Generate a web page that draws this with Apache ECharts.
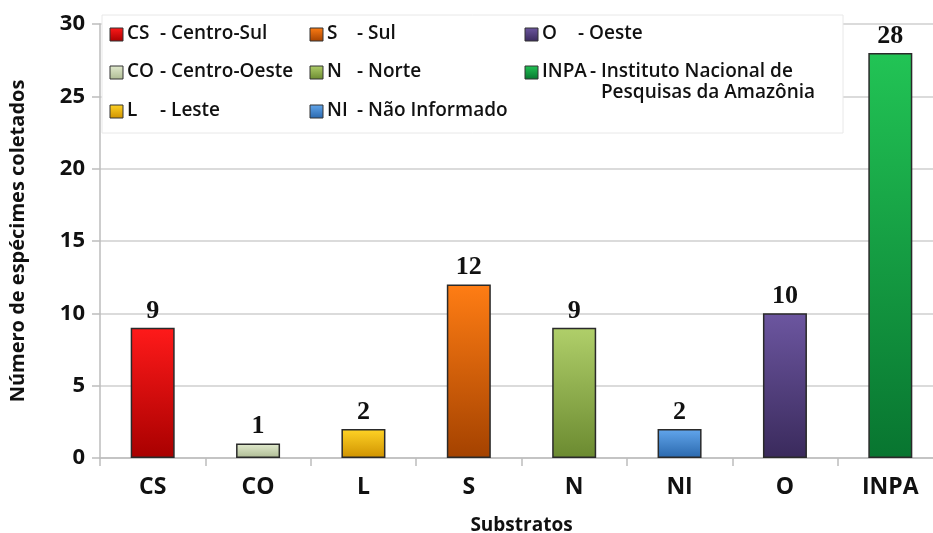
<!DOCTYPE html>
<html>
<head>
<meta charset="utf-8">
<script src="https://cdn.jsdelivr.net/npm/echarts@6/dist/echarts.min.js"></script>
<style>
html,body{margin:0;padding:0;background:#fff;}
#chart{width:933px;height:533px;}
</style>
</head>
<body>
<div id="chart"></div>
<script>
// ---- data ----
const categories = ['CS', 'CO', 'L', 'S', 'N', 'NI', 'O', 'INPA'];
const values = [9, 1, 2, 12, 9, 2, 10, 28];
const descriptions = ['- Centro-Sul', '- Centro-Oeste', '- Leste', '- Sul', '- Norte', '- Não Informado', '- Oeste', '- Instituto Nacional de\nPesquisas da Amazônia'];
const yTicks = [0, 5, 10, 15, 20, 25, 30];
const yAxisTitle = 'Número de espécimes coletados';
const xAxisTitle = 'Substratos';

// ---- styles ----
const barColors = [
  ['#ff1a1a', '#a80000'],
  ['#e2ebcf', '#aebb93'],
  ['#ffd326', '#cf9200'],
  ['#ff7d14', '#a44200'],
  ['#b0cf6a', '#6b8a30'],
  ['#62a6ec', '#2a68ad'],
  ['#6c56a0', '#3a2a5c'],
  ['#22c455', '#087530']
];
const sansFont = '"Open Sans", "DejaVu Sans", sans-serif';
const legendFont = '600 19px ' + sansFont;

function grad(c) {
  return new echarts.graphic.LinearGradient(0, 0, 0, 1, [
    { offset: 0, color: c[0] }, { offset: 1, color: c[1] }
  ]);
}

const chart = echarts.init(document.getElementById('chart'), null, { renderer: 'canvas' });

// legend built from arrays
const ctx = document.createElement('canvas').getContext('2d');
ctx.font = legendFont;
const colSquareX = [110, 310, 525];
const colDescX = [160, 357, 578];
const rowY = [34, 72, 111];
const legendEls = [{
  type: 'rect', shape: { x: 102, y: 15, width: 741, height: 118 },
  style: { fill: '#ffffff', stroke: '#e8e8e8', lineWidth: 1 }, z: 10
}];
categories.forEach((cat, i) => {
  const col = Math.floor(i / 3), row = i % 3;
  const sx = colSquareX[col], y = rowY[row];
  legendEls.push({
    type: 'rect', shape: { x: sx, y: y - 6, width: 13, height: 13 },
    style: { fill: grad(barColors[i]), stroke: '#333', lineWidth: 1 }, z: 11
  });
  legendEls.push({
    type: 'text', x: sx + 17, y: y,
    style: { text: cat, font: legendFont, fill: '#111', verticalAlign: 'middle' }, z: 11
  });
  const codeW = ctx.measureText(cat).width;
  const dx = Math.max(colDescX[col], sx + 17 + codeW + 3);
  const lines = descriptions[i].split('\n');
  lines.forEach((ln, k) => {
    legendEls.push({
      type: 'text', x: dx + (k > 0 ? 11 : 0), y: y + k * 21,
      style: { text: ln, font: legendFont, fill: '#111', verticalAlign: 'middle' }, z: 11
    });
  });
});

const option = {
  animation: false,
  backgroundColor: '#ffffff',
  grid: { left: 100, right: -10, top: 24, bottom: 75, containLabel: false, outerBoundsMode: 'none' },
  xAxis: {
    type: 'category',
    data: categories,
    name: xAxisTitle,
    nameLocation: 'middle',
    nameGap: 58,
    nameTextStyle: { fontFamily: sansFont, fontWeight: 'bold', fontSize: 19, color: '#111' },
    axisLine: { show: true, lineStyle: { color: '#bdbdbd', width: 1.5 } },
    axisTick: { show: true, length: 8, lineStyle: { color: '#bdbdbd', width: 1.5 } },
    axisLabel: { fontFamily: sansFont, fontWeight: 'bold', fontSize: 23, color: '#111', margin: 18 }
  },
  yAxis: {
    type: 'value',
    min: yTicks[0],
    max: yTicks[yTicks.length - 1],
    interval: yTicks[1] - yTicks[0],
    name: yAxisTitle,
    nameLocation: 'middle',
    nameGap: 72,
    nameTextStyle: { fontFamily: sansFont, fontWeight: 'bold', fontSize: 20, color: '#111' },
    axisLine: { show: true, lineStyle: { color: '#bdbdbd', width: 1.5 } },
    axisTick: { show: true, length: 8, lineStyle: { color: '#bdbdbd', width: 1.5 } },
    splitLine: { show: true, lineStyle: { color: '#cfcfcf', width: 1.5 } },
    axisLabel: { fontFamily: sansFont, fontWeight: 'bold', fontSize: 22, color: '#111', margin: 15 }
  },
  series: [{
    type: 'bar',
    barWidth: 44,
    data: values.map((v, i) => ({
      value: v,
      itemStyle: { color: grad(barColors[i]), borderColor: '#2a2a2a', borderWidth: 1.5 }
    })),
    label: {
      show: true, position: 'top', distance: 4,
      fontFamily: '"Liberation Serif", "Times New Roman", serif',
      fontWeight: 'bold', fontSize: 26, color: '#111'
    }
  }],
  graphic: legendEls
};
chart.setOption(option);
</script>
</body>
</html>
